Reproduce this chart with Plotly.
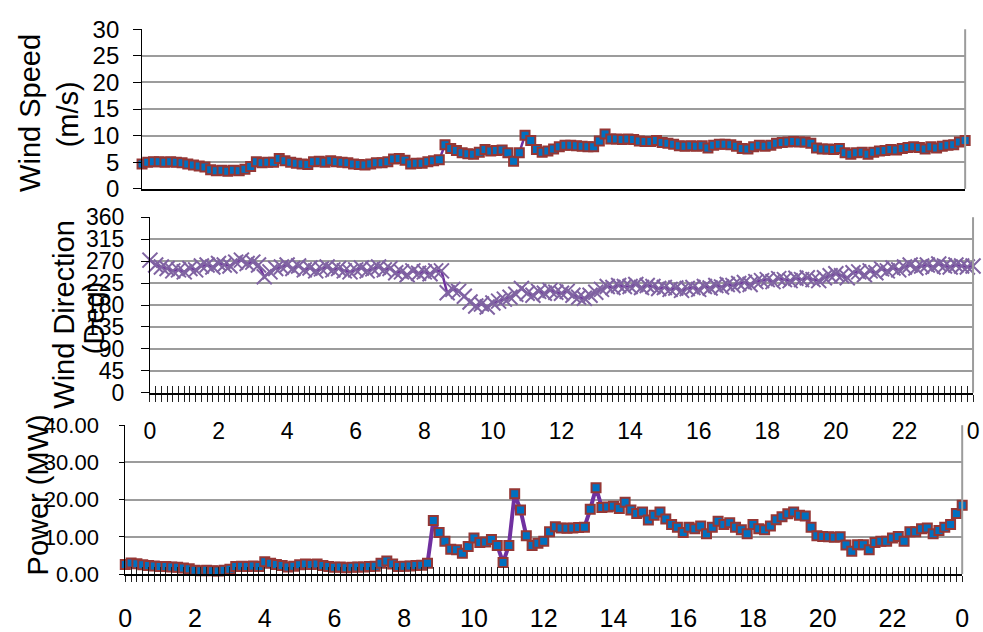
import plotly.graph_objects as go

# ---------------- data ----------------
step = list(range(145))  # 10-minute steps over 24 h
hour_labels = ["0", "2", "4", "6", "8", "10", "12", "14", "16", "18", "20", "22", "0"]

wind_speed = [
    4.7, 5.0, 5.1, 5.1, 5.0, 5.1, 5.0, 4.9, 4.7, 4.5, 4.3, 4.1,
    3.6, 3.4, 3.5, 3.3, 3.5, 3.4, 3.7, 4.2, 5.1, 4.9, 5.0, 5.0,
    5.7, 5.3, 5.0, 4.8, 4.7, 4.6, 5.1, 5.2, 5.0, 5.3, 5.1, 5.0,
    4.9, 4.7, 4.6, 4.5, 4.7, 4.9, 4.9, 5.1, 5.6, 5.7, 5.4, 4.7,
    4.8, 4.8, 5.1, 5.3, 5.5, 8.3, 7.6, 7.2, 6.8, 6.6, 6.5, 6.9,
    7.4, 7.1, 7.2, 7.3, 6.8, 5.2, 6.8, 10.1, 9.1, 7.4, 6.9, 7.1,
    7.5, 7.9, 8.2, 8.2, 8.1, 8.0, 7.9, 7.9, 9.0, 10.3, 9.4, 9.4,
    9.3, 9.4, 9.3, 9.0, 8.9, 8.9, 9.1, 8.7, 8.6, 8.4, 8.1, 8.0,
    8.1, 8.0, 8.1, 7.7, 8.2, 8.4, 8.4, 8.3, 8.0, 7.6, 7.5, 7.9,
    8.2, 8.0, 8.2, 8.6, 8.7, 8.8, 8.9, 8.8, 8.8, 8.6, 7.7, 7.5,
    7.5, 7.4, 7.6, 6.8, 6.5, 6.8, 6.9, 6.5, 6.9, 7.1, 7.2, 7.4,
    7.3, 7.6, 7.8, 7.9, 7.8, 7.5, 7.9, 7.7, 8.0, 8.2, 8.3, 8.8,
    9.1,
]

wind_direction = [
    272, 262, 258, 255, 250, 252, 248, 255, 252, 260, 262, 258,
    265, 262, 260, 268, 272, 265, 268, 262, 238, 248, 255, 258,
    262, 255, 260, 252, 256, 250, 254, 258, 252, 255, 250, 248,
    252, 256, 250, 254, 258, 252, 255, 246, 248, 242, 250, 245,
    248, 244, 250, 250, 205, 212, 208, 198, 186, 178, 182, 176,
    184, 188, 192, 196, 202, 214, 204, 200, 208, 204, 210, 206,
    204, 208, 200, 196, 194, 200, 206, 212, 218, 216, 220, 218,
    218, 222, 216, 220, 218, 214, 216, 212, 215, 210, 214, 216,
    212, 218, 215, 220, 217, 222, 220, 224, 226, 222, 228, 230,
    232, 228, 234, 232, 230, 235, 232, 236, 232, 230, 236, 240,
    244, 240, 236, 246, 248, 242, 250, 246, 254, 250, 256, 252,
    258, 262, 256, 260, 262, 258, 264, 260, 258, 262, 260, 258,
    260,
]

power = [
    2.6, 3.0, 2.8, 2.5, 2.3, 2.2, 2.0, 2.0, 1.9, 1.8, 1.6, 1.4,
    1.0, 0.9, 1.0, 0.9, 0.8, 1.0, 1.3, 2.0, 2.1, 2.0, 2.2, 2.0,
    3.3, 2.9, 2.6, 2.3, 1.9, 2.1, 2.5, 2.7, 2.6, 2.7, 2.3, 2.0,
    1.8, 1.9, 1.7, 1.8, 1.9, 1.9, 2.0, 2.1, 2.9, 3.5, 2.7, 2.0,
    2.1, 2.2, 2.3, 2.4, 2.9, 14.4, 11.2, 8.8, 6.7, 6.5, 5.6, 7.4,
    9.7, 8.5, 8.6, 9.3, 7.7, 3.1, 7.7, 21.6, 17.2, 10.3, 7.7, 8.3,
    8.8, 11.4, 12.7, 12.4, 12.3, 12.4, 12.5, 12.6, 17.4, 23.2, 17.9, 18.0,
    18.2, 17.6, 19.3, 17.2, 16.3, 16.7, 14.5, 15.8, 16.7, 14.8, 13.3, 12.6,
    11.2, 12.6, 12.2, 12.9, 10.8, 12.6, 14.2, 13.3, 13.8, 12.6, 11.9, 10.8,
    13.3, 12.2, 11.9, 12.9, 14.6, 15.4, 16.2, 16.7, 15.8, 15.6, 12.6, 10.3,
    10.1, 10.0, 9.9, 10.0, 7.8, 6.1, 7.9, 7.9, 6.5, 8.5, 8.8, 8.8,
    9.7, 10.1, 8.8, 11.4, 11.4, 12.2, 12.4, 10.8, 11.7, 12.6, 13.3, 16.3,
    18.5,
]

# ---------------- styling ----------------
W, H = 983, 632
FONT = "Liberation Sans, Arial, sans-serif"
GRID = "#9c9c9c"
LINE_PURPLE = "#7030A0"
MARK_BLUE = "#0070C0"
MARK_EDGE = "#953735"
X_PURPLE = "#8064A2"


def dom_x(a, b):
    return [a / W, b / W]


def dom_y(top, bottom):
    return [1 - bottom / H, 1 - top / H]


ticktext = [hour_labels[i // 12] if i % 12 == 0 else "" for i in step]

fig = go.Figure()

fig.add_trace(go.Scatter(
    x=step, y=wind_speed, xaxis="x", yaxis="y", mode="lines+markers",
    line=dict(color=LINE_PURPLE, width=2.5),
    marker=dict(symbol="square", size=9, color=MARK_BLUE,
                line=dict(color=MARK_EDGE, width=2)),
    cliponaxis=False, showlegend=False, hoverinfo="skip"))

fig.add_trace(go.Scatter(
    x=step, y=wind_direction, xaxis="x2", yaxis="y2", mode="lines+markers",
    line=dict(color=LINE_PURPLE, width=2.5),
    marker=dict(symbol="x-thin", size=15, color=X_PURPLE,
                line=dict(color=X_PURPLE, width=2)),
    cliponaxis=False, showlegend=False, hoverinfo="skip"))

fig.add_trace(go.Scatter(
    x=step, y=power, xaxis="x3", yaxis="y3", mode="lines+markers",
    line=dict(color=LINE_PURPLE, width=4),
    marker=dict(symbol="square", size=9, color=MARK_BLUE,
                line=dict(color=MARK_EDGE, width=2)),
    cliponaxis=False, showlegend=False, hoverinfo="skip"))

# empty traces so the overlay tick axes get drawn
fig.add_trace(go.Scatter(x=[], y=[], xaxis="x4", yaxis="y2", showlegend=False))
fig.add_trace(go.Scatter(x=[], y=[], xaxis="x5", yaxis="y3", showlegend=False))

common_y = dict(showline=True, linecolor="black", linewidth=1, ticks="outside",
                tickcolor="black", showgrid=True, gridcolor=GRID, gridwidth=2,
                zeroline=False, tickmode="linear", tick0=0, fixedrange=True)

fig.update_layout(
    width=W, height=H,
    margin=dict(l=0, r=0, t=0, b=0),
    paper_bgcolor="white", plot_bgcolor="white",
    font=dict(family=FONT, color="black"),
    xaxis=dict(domain=dom_x(137, 972), anchor="y", range=[0, 144],
               showline=True, linecolor="black", linewidth=1.5, ticks="",
               showticklabels=False, showgrid=False, zeroline=False),
    yaxis=dict(domain=dom_y(16, 183.3), anchor="x", range=[0, 30], dtick=5,
               ticklen=8, tickfont=dict(size=24), ticklabelstandoff=9, **common_y),
    xaxis2=dict(domain=dom_x(145, 980), anchor="y2", range=[0, 144],
                tickmode="array", tickvals=step, ticktext=ticktext,
                ticks="outside", ticklen=7, tickcolor="#222", tickwidth=1,
                showline=True, linecolor="black", linewidth=1.5,
                tickfont=dict(size=23), ticklabelstandoff=10,
                showgrid=False, zeroline=False),
    xaxis4=dict(overlaying="x2", anchor="y2", range=[0, 144],
                tickmode="array", tickvals=step, ticks="inside", ticklen=7,
                tickcolor="#222", tickwidth=1, showticklabels=False,
                showline=False, showgrid=False, zeroline=False),
    yaxis2=dict(domain=dom_y(213, 397), anchor="x2", range=[0, 360], dtick=45,
                ticklen=8, tickfont=dict(size=23), ticklabelstandoff=12, **common_y),
    xaxis3=dict(domain=dom_x(120, 969), anchor="y3", range=[0, 144],
                tickmode="array", tickvals=step, ticktext=ticktext,
                ticks="outside", ticklen=6, tickcolor="#222", tickwidth=1,
                showline=True, linecolor="black", linewidth=1.5,
                tickfont=dict(size=25), ticklabelstandoff=15,
                showgrid=False, zeroline=False),
    xaxis5=dict(overlaying="x3", anchor="y3", range=[0, 144],
                tickmode="array", tickvals=step, ticks="inside", ticklen=7,
                tickcolor="#222", tickwidth=1, showticklabels=False,
                showline=False, showgrid=False, zeroline=False),
    yaxis3=dict(domain=dom_y(431, 587), anchor="x3", range=[0, 40], dtick=10,
                tickformat=".2f", ticklen=5, tickfont=dict(size=22),
                ticklabelstandoff=16, **common_y),
)

# plot-area right borders
for xr, yr in (("x", "y"), ("x2", "y2"), ("x3", "y3")):
    fig.add_shape(type="line", xref=f"{xr} domain", yref=f"{yr} domain",
                  x0=1, x1=1, y0=0, y1=1, line=dict(color=GRID, width=2))

# axis titles
titles = [
    ("Wind Speed", 24, 104),
    ("(m/s)", 62, 105),
    ("Wind Direction", 57, 315),
    ("(Deg)", 89, 318),
    ("Power (MW)", 31, 504),
]
for text, px, py in titles:
    fig.add_annotation(text=text, x=px / W, y=1 - py / H, xref="paper", yref="paper",
                       textangle=-90, showarrow=False, xanchor="center",
                       yanchor="middle", font=dict(size=29, family=FONT, color="black"))

fig.write_html("out.html", config={"displayModeBar": False},
               post_script="document.body.style.margin='0';")
